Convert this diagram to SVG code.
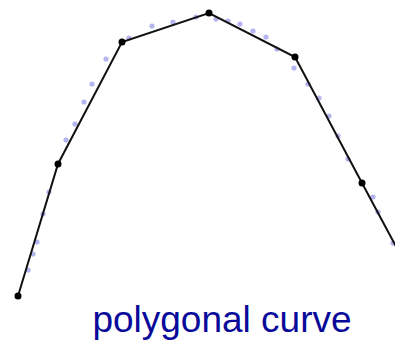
<svg xmlns="http://www.w3.org/2000/svg" width="395" height="341" viewBox="0 0 395 341">
<style>
.dot{fill:#b4b4ee}
.v{fill:#000}
.poly{fill:none;stroke:#111;stroke-width:2}
.lbl{font-family:"Liberation Sans",Arial,sans-serif;font-size:37px;fill:#0a0a9a}
</style>
<rect width="395" height="341" fill="#fff"/>
<g id="samples">
<circle class="dot" cx="28" cy="270" r="2.6"/>
<circle class="dot" cx="33" cy="254" r="2.6"/>
<circle class="dot" cx="37" cy="242" r="2.6"/>
<circle class="dot" cx="43" cy="214" r="2.6"/>
<circle class="dot" cx="49" cy="192" r="2.6"/>
<circle class="dot" cx="66" cy="140" r="2.6"/>
<circle class="dot" cx="75" cy="124" r="2.6"/>
<circle class="dot" cx="84" cy="102" r="2.6"/>
<circle class="dot" cx="92" cy="84" r="2.6"/>
<circle class="dot" cx="106" cy="59" r="2.6"/>
<circle class="dot" cx="129" cy="38" r="2.6"/>
<circle class="dot" cx="152" cy="26" r="2.6"/>
<circle class="dot" cx="173" cy="22" r="2.6"/>
<circle class="dot" cx="196" cy="17" r="2.6"/>
<circle class="dot" cx="216" cy="19" r="2.6"/>
<circle class="dot" cx="228" cy="21" r="2.6"/>
<circle class="dot" cx="240" cy="24" r="2.6"/>
<circle class="dot" cx="253" cy="31" r="2.6"/>
<circle class="dot" cx="266" cy="37" r="2.6"/>
<circle class="dot" cx="277" cy="49" r="2.6"/>
<circle class="dot" cx="294" cy="68" r="2.6"/>
<circle class="dot" cx="308" cy="84" r="2.6"/>
<circle class="dot" cx="319" cy="98" r="2.6"/>
<circle class="dot" cx="329" cy="116" r="2.6"/>
<circle class="dot" cx="338" cy="136" r="2.6"/>
<circle class="dot" cx="348" cy="159" r="2.6"/>
<circle class="dot" cx="373" cy="197" r="2.6"/>
<circle class="dot" cx="378" cy="212" r="2.6"/>
<circle class="dot" cx="393" cy="243" r="2.6"/>
</g>
<g id="connectors">
<polyline class="poly" points="18,296 58,164 122,42 209,13 295,57 362,183 400,254"/>
</g>
<g id="vertices">
<circle class="v" cx="18" cy="296" r="3.5"/>
<circle class="v" cx="58" cy="164" r="3.5"/>
<circle class="v" cx="122" cy="42" r="3.5"/>
<circle class="v" cx="209" cy="13" r="3.5"/>
<circle class="v" cx="295" cy="57" r="3.5"/>
<circle class="v" cx="362" cy="183" r="3.5"/>
</g>
<g id="label">
<text class="lbl" x="222" y="332" text-anchor="middle">polygonal curve</text>
</g>
</svg>
